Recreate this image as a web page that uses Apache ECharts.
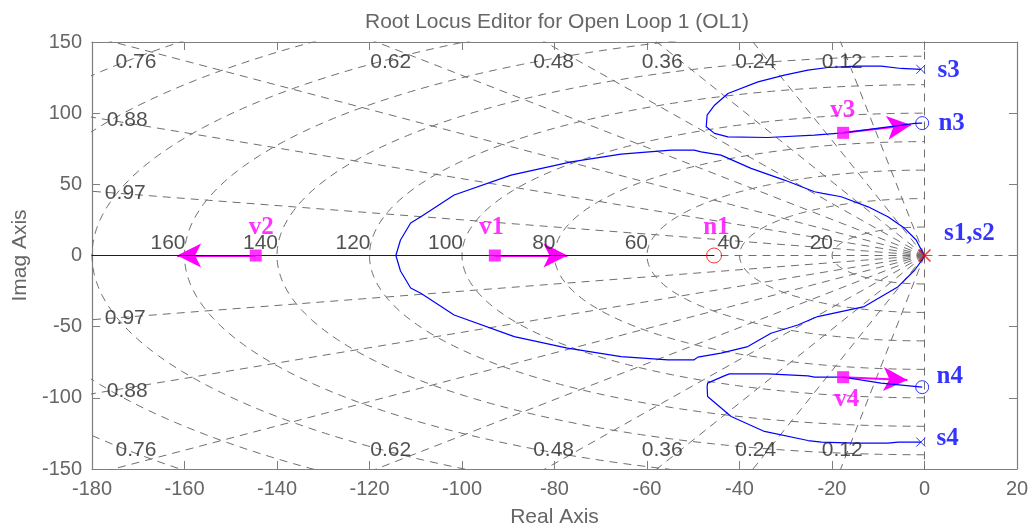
<!DOCTYPE html>
<html><head><meta charset="utf-8">
<script src="https://cdn.jsdelivr.net/npm/echarts@6/dist/echarts.min.js"></script>
<style>html,body{margin:0;padding:0;background:#fff}#c{width:1030px;height:529px}</style>
</head><body><div id="c"></div>
<script>
// ---------- data ----------
const zetaValues = [0.12, 0.24, 0.36, 0.48, 0.62, 0.76, 0.88, 0.97];
const wnCircles = [20, 40, 60, 80, 100, 120, 140, 160, 180, 200, 220];
const wnLabelValues = [20, 40, 60, 80, 100, 120, 140, 160];

const zetaLabelText = ['0.76', '0.62', '0.48', '0.36', '0.24', '0.12', '0.88', '0.97',
                       '0.97', '0.88', '0.76', '0.62', '0.48', '0.36', '0.24', '0.12'];
const zetaLabelPos = [[-170.5, 136], [-115.4, 136], [-80.2, 136], [-56.7, 136], [-36.5, 136], [-17.8, 136],
                      [-172.4, 95.1], [-172.8, 43.6],
                      [-172.8, -44.1], [-172.4, -95.6],
                      [-170.5, -136.5], [-115.4, -136.5], [-80.2, -136.5], [-56.7, -136.5], [-36.5, -136.5], [-17.8, -136.5]];

const mainBranchUpper = [[0,0],[-0.3,1.5],[-1.8,10.9],[-4.3,19.1],[-7.9,27.2],[-12.2,34.2],[-18.0,41.3],[-22.0,43.6],
  [-23.8,44.8],[-30.3,53.0],[-37.5,61.2],[-44.0,70.5],[-48.3,72.8],[-49.8,74.0],[-54.8,74.0],[-65.6,71.2],
  [-76.4,65.8],[-89.4,56.5],[-101.7,42.5],[-108.9,27.2],[-111.1,22.8],[-113.3,10.9],[-114.3,0]];
const mainBranchLower = [[0,0],[-0.3,-2.0],[-2.1,-10.2],[-5.7,-21.9],[-13.0,-35.9],[-23.1,-42.9],[-27.4,-48.8],
  [-33.2,-54.6],[-38.2,-64.0],[-44.0,-68.6],[-49.0,-71.4],[-49.8,-73.3],[-55.5,-73.3],[-65.6,-71.0],[-77.2,-65.1],
  [-88.7,-57.0],[-101.7,-41.8],[-108.9,-26.5],[-111.1,-22.8],[-113.3,-10.9],[-114.3,0]];
const loopS3 = [[-0.8,130.8],[-5.0,131.4],[-9.4,133.0],[-14.4,133.0],[-20.9,132.1],[-25.2,130.2],[-30.3,126.7],
  [-36.0,122.0],[-42.5,113.8],[-45.4,105.6],[-47.0,98.6],[-47.2,90.4],[-45.4,85.8],[-42.5,83.4],[-33.9,82.9],
  [-23.8,84.6],[-17.6,86.2],[-2.1,92.8],[-0.5,93.0]];
const loopS4 = [[-0.8,-131.1],[-5.7,-131.1],[-7.9,-131.8],[-15.1,-131.8],[-22.3,-131.1],[-25.2,-130.0],[-34.6,-123.6],
  [-41.8,-113.1],[-46.9,-99.1],[-47.0,-92.1],[-46.9,-89.7],[-43.3,-84.6],[-42.2,-83.2],[-33.9,-83.2],[-25.2,-84.6],
  [-23.8,-85.5],[-17.6,-85.5],[-9.4,-89.7],[-0.5,-92.5]];
const realAxisBranch = [[-180,0],[-45.5,0]];

const polesBlue = [[-0.8,130.8],[-0.8,-131.1]];
const polesRed = [[0,0]];
const zerosBlue = [[-0.5,93.0],[-0.5,-92.5]];
const zerosRed = [[-45.5,0]];
const closedLoopNames = ['v1','v2','v3','v4'];
const closedLoopPts = [[-92.9,0],[-144.6,0],[-17.6,86.2],[-17.6,-85.5]];
const arrowTips = [[-77.2,0],[-161.6,0],[-2.9,91.6],[-3.7,-87.4]];

const blueNames = ['s3','n3','s1,s2','n4','s4'];
const bluePos = [[2.8,130.2],[3.0,93],[4.2,15.1],[2.6,-85],[2.6,-128.3]];
const magentaNames = ['v1','v2','n1','v3','v4'];
const magentaPos = [[-93.6,19.3],[-143.4,19.3],[-45.0,19.3],[-17.7,102.1],[-16.8,-101.4]];

// ---------- chart ----------
const GRID = '#6f6f6f';
const dashed = {color: GRID, width: 1, type: [8, 6]};
const series = [];
function lineSeries(data, style, z) {
  series.push({type:'line', data, showSymbol:false, symbol:'none', clip:true, silent:true,
    lineStyle: style, z: z, animation:false});
}
// damping-ratio rays
const R = 400;
zetaValues.forEach(z => {
  const s = Math.sqrt(1 - z*z);
  lineSeries([[0,0],[-R*z, R*s]], dashed, 1);
  lineSeries([[0,0],[-R*z, -R*s]], dashed, 1);
});
lineSeries([[0,0],[0,R]], dashed, 1);
lineSeries([[0,0],[0,-R]], dashed, 1);
lineSeries([[0,0],[-R,0]], dashed, 1);
lineSeries([[0,0],[R,0]], dashed, 1);
// natural-frequency circles (left half plane)
wnCircles.forEach(r => {
  const pts = [];
  for (let i = 0; i <= 180; i++) {
    const t = (-90 + i) * Math.PI / 180;
    pts.push([-r*Math.cos(t), r*Math.sin(t)]);
  }
  lineSeries(pts, dashed, 1);
});
// locus
const locStyle = {color:'#0000ff', width:1.2};
[mainBranchUpper, mainBranchLower, loopS3, loopS4, realAxisBranch].forEach(d => lineSeries(d, locStyle, 5));

const xPath = 'path://M0,0L10,10M10,0L0,10';
series.push({type:'scatter', data: polesBlue, symbol: xPath, symbolSize: 9, z: 8, silent:true,
  itemStyle:{color:'none', borderColor:'#0000ff', borderWidth:1}});
series.push({type:'scatter', data: polesRed, symbol: xPath, symbolSize: 12, z: 8, silent:true,
  itemStyle:{color:'none', borderColor:'#ff0000', borderWidth:1.5}});
series.push({type:'scatter', data: zerosBlue, symbol:'circle', symbolSize: 13, z: 8, silent:true,
  itemStyle:{color:'rgba(0,0,0,0)', borderColor:'#0000ff', borderWidth:1}});
series.push({type:'scatter', data: zerosRed, symbol:'circle', symbolSize: 15, z: 8, silent:true,
  itemStyle:{color:'rgba(0,0,0,0)', borderColor:'#ff0000', borderWidth:1}});
series.push({type:'scatter', data: closedLoopPts, symbol:'rect', symbolSize: 12, z: 9, silent:true,
  itemStyle:{color:'#ff00ff'},
  markLine:{silent:true, animation:false, symbol:['none','arrow'], symbolSize:[18,24],
    lineStyle:{color:'#ff00ff', width:2, type:'solid'}, label:{show:false},
    data: closedLoopPts.map((p,i)=>[{coord:p},{coord:arrowTips[i]}])}});

const FONT = 'Liberation Sans, Arial, sans-serif';
const SERIF = 'Liberation Serif, Times New Roman, serif';
// text labels
series.push({type:'scatter', symbolSize:0, z:10, silent:true,
  data: zetaLabelPos.map((p,i)=>({value:p, name:zetaLabelText[i]})),
  label:{show:true, position:'inside', formatter:'{b}', color:'#262626', fontSize:21, fontFamily:FONT}});
series.push({type:'scatter', symbolSize:0, z:10, silent:true,
  data: wnLabelValues.map(r=>({value:[-r,0], name:String(r)})),
  label:{show:true, position:'inside', align:'right', verticalAlign:'middle', offset:[1,-12],
    formatter:'{b}', color:'#262626', fontSize:21, fontFamily:FONT}});
series.push({type:'scatter', symbolSize:0, z:10, silent:true,
  data: bluePos.map((p,i)=>({value:p, name:blueNames[i]})),
  label:{show:true, position:'inside', align:'left', verticalAlign:'middle', formatter:'{b}',
    color:'#0000ff', fontSize:25, fontWeight:'bold', fontFamily:SERIF}});
series.push({type:'scatter', symbolSize:0, z:10, silent:true,
  data: magentaPos.map((p,i)=>({value:p, name:magentaNames[i]})),
  label:{show:true, position:'inside', align:'center', verticalAlign:'middle', formatter:'{b}',
    color:'#ff00ff', fontSize:25, fontWeight:'bold', fontFamily:SERIF}});

const AX = '#7f7f7f';
const TXT = '#666666';
const baseAxis = {type:'value', axisLine:{show:true, onZero:false, lineStyle:{color:AX, width:1.2}},
  axisTick:{show:true, inside:true, length:8, lineStyle:{color:AX}}, splitLine:{show:false}};

const chart = echarts.init(document.getElementById('c'), null, {renderer:'canvas'});
chart.setOption({
  animation:false,
  backgroundColor:'#ffffff',
  title:{text:'Root Locus Editor for Open Loop 1 (OL1)', left:552, textAlign:'center', top:7,
    textStyle:{color:TXT, fontSize:21, fontWeight:'normal', fontFamily:FONT}},
  grid:{left:92, right:13, top:42, bottom:60, containLabel:false, outerBoundsMode:'none'},
  xAxis:[
    Object.assign({}, baseAxis, {position:'bottom', min:-180, max:20, interval:20,
      axisLabel:{color:TXT, fontSize:20, margin:10, fontFamily:FONT},
      name:'Real Axis', nameLocation:'middle', nameGap:38,
      nameTextStyle:{color:TXT, fontSize:21, fontFamily:FONT}}),
    Object.assign({}, baseAxis, {position:'top', min:-180, max:20, interval:20, axisLabel:{show:false}})
  ],
  yAxis:[
    Object.assign({}, baseAxis, {position:'left', min:-150, max:150, interval:50,
      axisLabel:{color:TXT, fontSize:20, margin:10, fontFamily:FONT},
      name:'Imag Axis', nameLocation:'middle', nameGap:60,
      nameTextStyle:{color:TXT, fontSize:21, fontFamily:FONT}}),
    Object.assign({}, baseAxis, {position:'right', min:-150, max:150, interval:50, axisLabel:{show:false}})
  ],
  series: series
});
</script></body></html>
